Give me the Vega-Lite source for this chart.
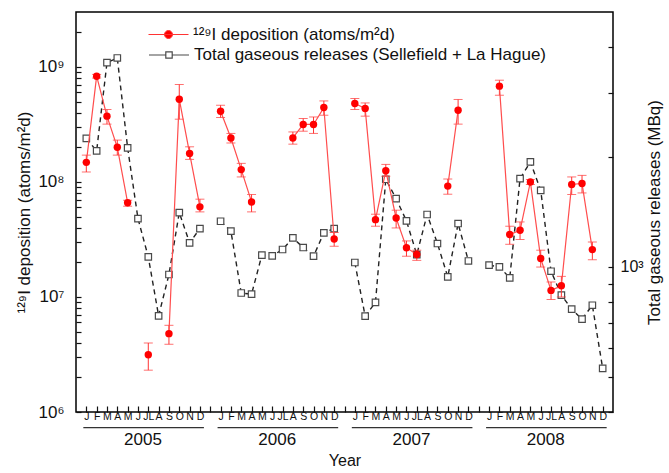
{
  "$schema": "https://vega.github.io/schema/vega-lite/v6.json",
  "width": 537,
  "height": 400,
  "autosize": {"type": "none"},
  "padding": {"left": 76, "top": 12, "right": 56, "bottom": 61},
  "background": "white",
  "config": {
    "view": {"stroke": "#000", "strokeWidth": 1.5},
    "font": "Liberation Sans",
    "axis": {"grid": false, "domain": false, "labelFont": "Liberation Sans", "titleFont": "Liberation Sans", "labelColor": "#111", "titleColor": "#111", "tickColor": "#111", "titleFontWeight": "normal"},
    "legend": {"labelFont": "Liberation Sans", "labelFontSize": 17, "labelColor": "#111", "padding": 0, "labelLimit": 500}
  },
  "datasets": {
    "d": [
      {"m": "2005-01", "yr": "2005", "dep": 1.48e8, "lo": 1.22e8, "hi": 1.71e8, "rel": 2250},
      {"m": "2005-02", "yr": "2005", "dep": 8.3e8, "lo": 8.0e8, "hi": 8.6e8, "rel": 2080},
      {"m": "2005-03", "yr": "2005", "dep": 3.73e8, "lo": 3.18e8, "hi": 4.26e8, "rel": 3630},
      {"m": "2005-04", "yr": "2005", "dep": 2.0e8, "lo": 1.71e8, "hi": 2.31e8, "rel": 3740},
      {"m": "2005-05", "yr": "2005", "dep": 6.6e7, "lo": 6.15e7, "hi": 6.93e7, "rel": 2120},
      {"m": "2005-06", "yr": "2005", "dep": null, "lo": null, "hi": null, "rel": 1357},
      {"m": "2005-07", "yr": "2005", "dep": 3.15e6, "lo": 2.31e6, "hi": 3.98e6, "rel": 1065},
      {"m": "2005-08", "yr": "2005", "dep": null, "lo": null, "hi": null, "rel": 734},
      {"m": "2005-09", "yr": "2005", "dep": 4.8e6, "lo": 3.88e6, "hi": 5.67e6, "rel": 953},
      {"m": "2005-10", "yr": "2005", "dep": 5.24e8, "lo": 3.51e8, "hi": 7.03e8, "rel": 1409},
      {"m": "2005-11", "yr": "2005", "dep": 1.77e8, "lo": 1.57e8, "hi": 2.02e8, "rel": 1164},
      {"m": "2005-12", "yr": "2005", "dep": 6.07e7, "lo": 5.49e7, "hi": 7.08e7, "rel": 1274},
      {"m": "2006-01", "yr": "2006", "dep": 4.12e8, "lo": 3.63e8, "hi": 4.64e8, "rel": 1334},
      {"m": "2006-02", "yr": "2006", "dep": 2.41e8, "lo": 2.18e8, "hi": 2.64e8, "rel": 1253},
      {"m": "2006-03", "yr": "2006", "dep": 1.28e8, "lo": 1.105e8, "hi": 1.45e8, "rel": 848},
      {"m": "2006-04", "yr": "2006", "dep": 6.7e7, "lo": 5.49e7, "hi": 7.77e7, "rel": 842},
      {"m": "2006-05", "yr": "2006", "dep": null, "lo": null, "hi": null, "rel": 1077},
      {"m": "2006-06", "yr": "2006", "dep": null, "lo": null, "hi": null, "rel": 1072},
      {"m": "2006-07", "yr": "2006", "dep": null, "lo": null, "hi": null, "rel": 1116},
      {"m": "2006-08", "yr": "2006", "dep": 2.41e8, "lo": 2.13e8, "hi": 2.72e8, "rel": 1201},
      {"m": "2006-09", "yr": "2006", "dep": 3.16e8, "lo": 2.76e8, "hi": 3.56e8, "rel": 1130},
      {"m": "2006-10", "yr": "2006", "dep": 3.16e8, "lo": 2.64e8, "hi": 3.67e8, "rel": 1070},
      {"m": "2006-11", "yr": "2006", "dep": 4.43e8, "lo": 3.8e8, "hi": 5.06e8, "rel": 1240},
      {"m": "2006-12", "yr": "2006", "dep": 3.19e7, "lo": 2.76e7, "hi": 3.63e7, "rel": 1274},
      {"m": "2007-01", "yr": "2007", "dep": 4.8e8, "lo": 4.26e8, "hi": 5.31e8, "rel": 1028},
      {"m": "2007-02", "yr": "2007", "dep": 4.35e8, "lo": 3.73e8, "hi": 4.86e8, "rel": 733},
      {"m": "2007-03", "yr": "2007", "dep": 4.7e7, "lo": 4.12e7, "hi": 5.24e7, "rel": 799},
      {"m": "2007-04", "yr": "2007", "dep": 1.25e8, "lo": 1.12e8, "hi": 1.42e8, "rel": 1739},
      {"m": "2007-05", "yr": "2007", "dep": 4.86e7, "lo": 3.98e7, "hi": 5.68e7, "rel": 1538},
      {"m": "2007-06", "yr": "2007", "dep": 2.68e7, "lo": 2.26e7, "hi": 3.07e7, "rel": 1337},
      {"m": "2007-07", "yr": "2007", "dep": 2.34e7, "lo": 2.08e7, "hi": 2.55e7, "rel": 1081},
      {"m": "2007-08", "yr": "2007", "dep": null, "lo": null, "hi": null, "rel": 1392},
      {"m": "2007-09", "yr": "2007", "dep": null, "lo": null, "hi": null, "rel": 1159},
      {"m": "2007-10", "yr": "2007", "dep": 9.2e7, "lo": 7.82e7, "hi": 1.06e8, "rel": 939},
      {"m": "2007-11", "yr": "2007", "dep": 4.2e8, "lo": 3.18e8, "hi": 5.21e8, "rel": 1315},
      {"m": "2007-12", "yr": "2007", "dep": null, "lo": null, "hi": null, "rel": 1038},
      {"m": "2008-01", "yr": "2008", "dep": null, "lo": null, "hi": null, "rel": 1011},
      {"m": "2008-02", "yr": "2008", "dep": 6.8e8, "lo": 5.67e8, "hi": 7.66e8, "rel": 1000},
      {"m": "2008-03", "yr": "2008", "dep": 3.49e7, "lo": 2.87e7, "hi": 4.12e7, "rel": 933},
      {"m": "2008-04", "yr": "2008", "dep": 3.8e7, "lo": 3.16e7, "hi": 4.49e7, "rel": 1746},
      {"m": "2008-05", "yr": "2008", "dep": 1.0e8, "lo": 0.95e8, "hi": 1.05e8, "rel": 1940},
      {"m": "2008-06", "yr": "2008", "dep": 2.16e7, "lo": 1.82e7, "hi": 2.55e7, "rel": 1622},
      {"m": "2008-07", "yr": "2008", "dep": 1.14e7, "lo": 9.5e6, "hi": 1.35e7, "rel": 973},
      {"m": "2008-08", "yr": "2008", "dep": 1.25e7, "lo": 1.0e7, "hi": 1.51e7, "rel": 837},
      {"m": "2008-09", "yr": "2008", "dep": 9.5e7, "lo": 7.77e7, "hi": 1.105e8, "rel": 766},
      {"m": "2008-10", "yr": "2008", "dep": 9.7e7, "lo": 8.02e7, "hi": 1.14e8, "rel": 719},
      {"m": "2008-11", "yr": "2008", "dep": 2.58e7, "lo": 2.11e7, "hi": 3.0e7, "rel": 785},
      {"m": "2008-12", "yr": "2008", "dep": null, "lo": null, "hi": null, "rel": 527}
    ],
    "years": [
      {"yr": "2005", "first": "2005-01", "mid": "2005-06", "last": "2005-12"},
      {"yr": "2006", "first": "2006-01", "mid": "2006-06", "last": "2006-12"},
      {"yr": "2007", "first": "2007-01", "mid": "2007-06", "last": "2007-12"},
      {"yr": "2008", "first": "2008-01", "mid": "2008-06", "last": "2008-12"}
    ]
  },
  "layer": [
    {
      "data": {"name": "d"},
      "mark": {"type": "line", "color": "#222", "strokeWidth": 1.4, "strokeDash": [5, 4]},
      "encoding": {
        "x": {"field": "m", "type": "ordinal", "title": "Year",
          "scale": {"type": "point", "padding": 1, "domain": ["2005-01","2005-02","2005-03","2005-04","2005-05","2005-06","2005-07","2005-08","2005-09","2005-10","2005-11","2005-12","g1","2006-01","2006-02","2006-03","2006-04","2006-05","2006-06","2006-07","2006-08","2006-09","2006-10","2006-11","2006-12","g2","2007-01","2007-02","2007-03","2007-04","2007-05","2007-06","2007-07","2007-08","2007-09","2007-10","2007-11","2007-12","g3","2008-01","2008-02","2008-03","2008-04","2008-05","2008-06","2008-07","2008-08","2008-09","2008-10","2008-11","2008-12"]},
          "axis": {"orient": "bottom", "title": "Year", "titleFontSize": 16, "titlePadding": 31, "labelExpr": "length(datum.value) < 5 ? '' : ['J','F','M','A','M','J','JL','A','S','O','N','D'][toNumber(substring(datum.value,5,7))-1]", "labelFontSize": 10.5, "labelAngle": 0, "tickSize": -6, "tickWidth": 1.2, "labelPadding": 5}},
        "y": {"field": "rel", "type": "quantitative", "scale": {"type": "log", "domain": [400, 5000], "nice": false}, "axis": null},
        "detail": {"field": "yr"}
      }
    },
    {
      "data": {"name": "d"},
      "mark": {"type": "point", "shape": "square", "filled": false, "fill": "white", "size": 42, "strokeWidth": 1.2, "opacity": 1},
      "encoding": {
        "x": {"field": "m", "type": "ordinal", "title": "Year"},
        "y": {"field": "rel", "type": "quantitative", "scale": {"type": "log", "domain": [400, 5000], "nice": false},
          "axis": {"orient": "right", "title": "Total gaseous releases (MBq)", "values": [400,500,600,700,800,900,1000,2000,3000,4000], "labelExpr": "datum.value == 1000 ? '10³' : ''", "tickSize": -5, "tickWidth": 1.2, "labelPadding": 12, "labelFontSize": 16, "titleFontSize": 17, "titleAngle": 270, "titlePadding": 20}},
        "stroke": {"datum": "Total gaseous releases (Sellefield + La Hague)", "scale": {"range": ["#4a4a4a"]},
          "legend": {"title": null, "orient": "none", "legendX": 72, "legendY": 22, "symbolType": "M-1,0H-0.16M0.16,0H1M-0.16,-0.16H0.16V0.16H-0.16Z", "symbolSize": 1600, "symbolStrokeWidth": 1.2, "labelOffset": 4}}
      }
    },
    {
      "layer": [
        {
          "data": {"name": "d"},
          "mark": {"type": "rule", "color": "#ff3333", "strokeWidth": 1},
          "encoding": {
            "x": {"field": "m", "type": "ordinal", "title": "Year"},
            "y": {"field": "lo", "type": "quantitative", "title": "¹²⁹I deposition (atoms/m²d)", "scale": {"type": "log", "domain": [1e6, 3e9], "nice": false}},
            "y2": {"field": "hi"}
          }
        },
        {
          "data": {"name": "d"},
          "mark": {"type": "tick", "orient": "horizontal", "color": "#ff3333", "size": 9, "thickness": 1},
          "encoding": {
            "x": {"field": "m", "type": "ordinal", "title": "Year"},
            "y": {"field": "lo", "type": "quantitative", "title": "¹²⁹I deposition (atoms/m²d)", "scale": {"type": "log", "domain": [1e6, 3e9], "nice": false}}
          }
        },
        {
          "data": {"name": "d"},
          "mark": {"type": "tick", "orient": "horizontal", "color": "#ff3333", "size": 9, "thickness": 1},
          "encoding": {
            "x": {"field": "m", "type": "ordinal", "title": "Year"},
            "y": {"field": "hi", "type": "quantitative", "title": "¹²⁹I deposition (atoms/m²d)", "scale": {"type": "log", "domain": [1e6, 3e9], "nice": false}}
          }
        },
        {
          "data": {"name": "d"},
          "mark": {"type": "line", "color": "#ff4d4d", "strokeWidth": 1.2, "invalid": "break-paths-filter-domains"},
          "encoding": {
            "x": {"field": "m", "type": "ordinal", "title": "Year"},
            "y": {"field": "dep", "type": "quantitative", "title": "¹²⁹I deposition (atoms/m²d)", "scale": {"type": "log", "domain": [1e6, 3e9], "nice": false}},
            "detail": {"field": "yr"}
          }
        },
        {
          "data": {"name": "d"},
          "mark": {"type": "point", "shape": "circle", "filled": true, "size": 55, "opacity": 1},
          "encoding": {
            "x": {"field": "m", "type": "ordinal", "title": "Year"},
            "y": {"field": "dep", "type": "quantitative", "title": "¹²⁹I deposition (atoms/m²d)",
              "scale": {"type": "log", "domain": [1e6, 3e9], "nice": false},
              "axis": {"orient": "left", "values": [1e6,2e6,3e6,4e6,5e6,6e6,7e6,8e6,9e6,1e7,2e7,3e7,4e7,5e7,6e7,7e7,8e7,9e7,1e8,2e8,3e8,4e8,5e8,6e8,7e8,8e8,9e8,1e9,2e9],
                "labelExpr": "datum.value == 1e6 ? '10⁶' : datum.value == 1e7 ? '10⁷' : datum.value == 1e8 ? '10⁸' : datum.value == 1e9 ? '10⁹' : ''",
                "tickSize": -5, "tickWidth": 1.2, "labelPadding": 17, "labelFontSize": 17, "titleFontSize": 17, "titlePadding": 4}},
            "fill": {"datum": "¹²⁹I deposition (atoms/m²d)", "scale": {"range": ["#ff0000"]},
              "legend": {"title": null, "orient": "none", "legendX": 72, "legendY": 2, "symbolType": "M-1,0H1M0.2,0A0.2,0.2 0 1,1 -0.2,0A0.2,0.2 0 1,1 0.2,0Z", "symbolSize": 1600, "symbolStrokeColor": "#ff3333", "symbolStrokeWidth": 1, "labelOffset": 4}}
          }
        },
        {
          "data": {"name": "years"},
          "mark": {"type": "rule", "color": "#333", "strokeWidth": 1.2, "xOffset": -3, "x2Offset": 4},
          "encoding": {
            "x": {"field": "first", "type": "ordinal", "title": "Year"},
            "x2": {"field": "last"},
            "y": {"datum": 7.3e5, "type": "quantitative", "title": "¹²⁹I deposition (atoms/m²d)", "scale": {"type": "log", "domain": [1e6, 3e9], "nice": false}}
          }
        },
        {
          "data": {"name": "years"},
          "mark": {"type": "text", "fontSize": 17, "color": "#111", "dx": 5, "baseline": "middle"},
          "encoding": {
            "x": {"field": "mid", "type": "ordinal", "title": "Year"},
            "y": {"datum": 5.67e5, "type": "quantitative", "title": "¹²⁹I deposition (atoms/m²d)", "scale": {"type": "log", "domain": [1e6, 3e9], "nice": false}},
            "text": {"field": "yr"}
          }
        }
      ]
    }
  ],
  "resolve": {"scale": {"y": "independent"}}
}
